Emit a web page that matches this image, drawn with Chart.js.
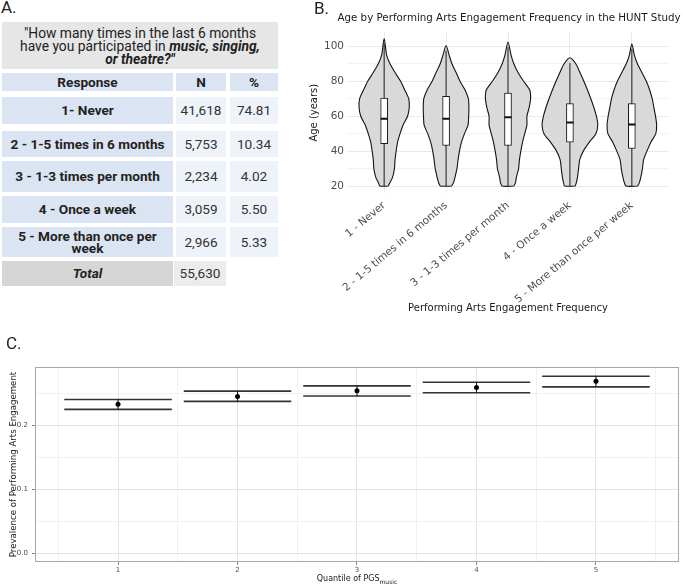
<!DOCTYPE html>
<html>
<head>
<meta charset="utf-8">
<title>Performing arts engagement in HUNT</title>
<script src="https://cdn.jsdelivr.net/npm/chart.js@4.4.1/dist/chart.umd.min.js"></script>
<style>
  html, body { margin: 0; padding: 0; background: #fff; }
  body { width: 683px; height: 584px; position: relative; overflow: hidden; font-family: Roboto, sans-serif; }
  canvas { position: absolute; }
  .panel-label { position: absolute; font-size: 17px; line-height: 17px; color: #222; z-index: 2; }
  .cell { position: absolute; display: flex; align-items: center; justify-content: center;
          text-align: center; font-size: 13.6px; line-height: 12.5px; color: #222; white-space: pre; }
  .question { position: absolute; text-align: center; font-size: 13.8px; line-height: 13px; color: #222; white-space: nowrap; }
</style>
</head>
<body>
<div id="tableA"></div>
<canvas id="violinChart" width="383" height="320" style="left:300px;top:0px"></canvas>
<canvas id="pgsChart" width="683" height="254" style="left:0px;top:330px"></canvas>
<div class="panel-label" style="left:1px;top:-1px">A.</div>
<div class="panel-label" style="left:314px;top:0px">B.</div>
<div class="panel-label" style="left:6px;top:335px">C.</div>
<script>
// ---- A. survey responses ----
const responses = ['1- Never', '2 - 1-5 times in 6 months', '3 - 1-3 times per month',
                   '4 - Once a week', '5 - More than once per\nweek'];
const counts = [41618, 5753, 2234, 3059, 2966];
const percents = ['74.81', '10.34', '4.02', '5.50', '5.33'];
const totalCount = 55630;

// ---- B. age distribution per engagement level (density) ----
const engagementLevels = ['1 - Never', '2 - 1-5 times in 6 months', '3 - 1-3 times per month',
                          '4 - Once a week', '5 - More than once per week'];
const ageGrid = [20, 22, 25, 30, 35, 40, 45, 50, 55, 60, 65, 70, 75, 80, 85, 90, 95];
const densNever    = [0.15, 0.21, 0.30, 0.37, 0.39, 0.43, 0.48, 0.57, 0.68, 0.84, 0.90, 0.88, 0.74, 0.59, 0.39, 0.21, 0.09];
const densSixMonth = [0.20, 0.27, 0.32, 0.39, 0.43, 0.48, 0.55, 0.66, 0.79, 0.81, 0.82, 0.80, 0.68, 0.50, 0.36, 0.21, 0.11];
const densMonthly  = [0.21, 0.27, 0.30, 0.38, 0.41, 0.46, 0.52, 0.60, 0.68, 0.68, 0.76, 0.81, 0.78, 0.56, 0.36, 0.21, 0.11];
const densWeekly   = [0.19, 0.23, 0.27, 0.31, 0.35, 0.48, 0.69, 0.93, 1.00, 0.95, 0.86, 0.75, 0.63, 0.50, 0.36, 0.21, 0.00];
const densMoreWeek = [0.21, 0.27, 0.32, 0.38, 0.42, 0.54, 0.68, 0.86, 0.89, 0.85, 0.79, 0.73, 0.64, 0.52, 0.36, 0.20, 0.09];
const ageMin = [20, 20, 20, 20, 20];
const ageMax = [104.5, 100.5, 102.5, 93.5, 101.5];
const ageQ1 = [44.2, 43.2, 43.2, 45.1, 41.5];
const ageMedian = [58.5, 58.5, 59.4, 56.4, 55.2];
const ageQ3 = [70.3, 71.4, 73.3, 67.2, 67.2];
const ageTicks = [20, 30, 40, 50, 60, 70, 80, 90, 100];

// ---- C. prevalence by PGS quantile ----
const pgsQuantiles = [1, 2, 3, 4, 5];
const prevalence = [0.2326, 0.2450, 0.2538, 0.2589, 0.2688];
const ciLower = [0.2248, 0.2372, 0.2456, 0.2507, 0.2600];
const ciUpper = [0.2403, 0.2533, 0.2615, 0.2672, 0.2766];
const prevTicks = [0, 0.05, 0.1, 0.15, 0.2, 0.25];
const quantileTicks = [0.5, 1, 1.5, 2, 2.5, 3, 3.5, 4, 4.5, 5, 5.5];

Chart.defaults.font.family = 'DejaVu Sans';

// fixed axis box, no extra room reserved for overhanging labels
function pinScale(size) {
    return (s) => {
        if (s.isHorizontal()) s.height = size; else s.width = size;
        s.paddingLeft = 0; s.paddingRight = 0; s.paddingTop = 0; s.paddingBottom = 0;
    };
}

/**
 * Panel A: plain positioned cells
 */
function buildTable() {
    const host = document.getElementById('tableA');
    const cols = [[2, 171], [176, 50], [230, 48]];
    const rows = [[97, 27], [131, 26], [161, 31], [196, 27], [227, 30]];
    const blue = '#dbe4f3', pale = '#eef2f9';

    function cell(x, y, w, h, bg, html, style) {
        const d = document.createElement('div');
        d.className = 'cell';
        d.style.cssText = `left:${x}px;top:${y}px;width:${w}px;height:${h}px;background:${bg};` + (style || '');
        d.innerHTML = html;
        host.appendChild(d);
    }

    const q = document.createElement('div');
    q.className = 'question';
    q.style.cssText = 'left:2px;top:22px;width:276px;height:42px;padding-top:5px;background:#e6e6e6;';
    q.innerHTML = '"How many times in the last 6 months<br>have you participated in <b><i>music, singing,</i></b><br><b><i>or theatre?"</i></b>';
    host.appendChild(q);

    cell(cols[0][0], 73, cols[0][1], 18, blue, 'Response', 'font-weight:bold;');
    cell(cols[1][0], 73, cols[1][1], 18, blue, 'N', 'font-weight:bold;');
    cell(cols[2][0], 73, cols[2][1], 18, blue, '%', 'font-weight:bold;');

    responses.forEach((r, i) => {
        const [y, h] = rows[i];
        cell(cols[0][0], y, cols[0][1], h, blue, r, 'font-weight:bold;');
        cell(cols[1][0], y, cols[1][1], h, pale, counts[i].toLocaleString('en-US'), 'color:#333;');
        cell(cols[2][0], y, cols[2][1], h, pale, percents[i], 'color:#333;');
    });

    cell(cols[0][0], 261, cols[0][1], 25, '#d6d6d6', 'Total', 'font-weight:bold;font-style:italic;');
    cell(cols[1][0] - 2, 261, cols[1][1] + 2, 25, '#ececec', totalCount.toLocaleString('en-US'), 'color:#333;');
}

/**
 * Panel B: violins as closed filled lines, boxes as floating bars
 */
const violinTitle = {
    id: 'violinTitle',
    afterDraw(chart) {
        const ctx = chart.ctx;
        ctx.save();
        ctx.fillStyle = '#1a1a1a';
        ctx.font = '10.3px "DejaVu Sans"';
        ctx.textAlign = 'center';
        ctx.textBaseline = 'middle';
        ctx.fillText('Age by Performing Arts Engagement Frequency in the HUNT Study', 209, 18);
        ctx.restore();
    }
};

function createViolinChart() {
    const VIOLIN_HALF = 0.45;
    const densities = [densNever, densSixMonth, densMonthly, densWeekly, densMoreWeek];

    function outline(i) {
        const cx = i + 1;
        const right = [];
        ageGrid.forEach((a, k) => {
            if (a < ageMax[i]) right.push({ x: cx + densities[i][k] * VIOLIN_HALF, y: a });
        });
        const pts = right.slice();
        pts.push({ x: cx, y: ageMax[i] });
        for (let k = right.length - 1; k >= 0; k--) pts.push({ x: 2 * cx - right[k].x, y: right[k].y });
        pts.push(right[0]);
        return pts;
    }

    const whiskers = [];
    engagementLevels.forEach((_, i) => {
        whiskers.push({ x: i + 1, y: ageMin[i] }, { x: i + 1, y: ageMax[i] - 3 }, { x: i + 1, y: null });
    });

    const datasets = [
        {
            type: 'scatter',
            data: ageMedian.map((m, i) => ({ x: i + 1, y: m })),
            pointStyle: 'line', pointRadius: 3.6, borderWidth: 2, borderColor: '#111',
            order: 0
        },
        {
            type: 'bar',
            data: ageQ1.map((q1, i) => ({ x: i + 1, y: [q1, ageQ3[i]] })),
            backgroundColor: '#ffffff', borderColor: '#1a1a1a', borderWidth: 1,
            borderSkipped: false, barThickness: 7,
            order: 1
        },
        {
            type: 'line',
            data: whiskers,
            borderColor: '#1a1a1a', borderWidth: 1, pointRadius: 0, fill: false,
            order: 2
        }
    ];
    engagementLevels.forEach((_, i) => {
        datasets.push({
            type: 'line',
            data: outline(i),
            fill: 'shape',
            backgroundColor: '#d9d9d9',
            borderColor: '#141414',
            borderWidth: 1.1,
            pointRadius: 0,
            tension: 0.25,
            order: 3
        });
    });

    return new Chart(document.getElementById('violinChart'), {
        type: 'line',
        data: { datasets },
        options: {
            responsive: false,
            animation: false,
            layout: { padding: { left: 0, right: 14, top: 32, bottom: 4 } },
            plugins: {
                legend: { display: false },
                tooltip: { enabled: false },
                title: { display: false }
            },
            scales: {
                x: {
                    type: 'linear', min: 0.4, max: 5.6,
                    offset: false,  // the bar dataset would otherwise switch offset on
                    afterBuildTicks: (s) => { s.ticks = engagementLevels.map((_, i) => ({ value: i + 1 })); },
                    afterFit: pinScale(122.6),
                    ticks: {
                        callback: (v) => engagementLevels[v - 1],
                        autoSkip: false, minRotation: 40, maxRotation: 40,
                        color: '#4d4d4d', font: { size: 10.5 }, padding: 6
                    },
                    grid: { color: '#ebebeb', drawTicks: false, offset: false },
                    border: { display: false },
                    title: {
                        display: true, text: 'Performing Arts Engagement Frequency',
                        color: '#1a1a1a', font: { size: 10 }, padding: { top: 0, bottom: 2 }
                    }
                },
                y: {
                    min: 15.8, max: 108.2,
                    afterBuildTicks: (s) => { s.ticks = ageTicks.map(v => ({ value: v })); },
                    afterFit: pinScale(47),
                    ticks: {
                        callback: (v) => (v % 20 === 0 ? v : ''),
                        color: '#4d4d4d', font: { size: 10.5 }, padding: 3
                    },
                    grid: {
                        drawTicks: false,
                        color: (c) => (c.tick && c.tick.value % 20 === 0 ? '#e9e9e9' : '#f3f3f3')
                    },
                    border: { display: false },
                    title: {
                        display: true, text: 'Age (years)',
                        color: '#1a1a1a', font: { size: 10 }, padding: { top: 8, bottom: 0 }
                    }
                }
            }
        },
        plugins: [violinTitle]
    });
}

/**
 * Panel C: prevalence points with wide error bars, framed panel
 */
const panelFrame = {
    id: 'panelFrame',
    afterDraw(chart) {
        const { ctx, chartArea: a } = chart;
        ctx.save();
        ctx.strokeStyle = '#a8a8a8';
        ctx.lineWidth = 1;
        ctx.strokeRect(Math.round(a.left) + 0.5, Math.round(a.top) + 0.5,
                       Math.round(a.width) - 1, Math.round(a.height) - 1);

        // x title with subscript
        const main = 'Quantile of PGS', sub = 'music';
        ctx.fillStyle = '#1a1a1a';
        ctx.textBaseline = 'alphabetic';
        ctx.font = '8px "DejaVu Sans"';
        const w1 = ctx.measureText(main).width;
        ctx.font = '6px "DejaVu Sans"';
        const w2 = ctx.measureText(sub).width;
        const x0 = (a.left + a.right) / 2 - (w1 + w2) / 2;
        ctx.font = '8px "DejaVu Sans"';
        ctx.fillText(main, x0, 251);
        ctx.font = '6px "DejaVu Sans"';
        ctx.fillText(sub, x0 + w1, 253.5);
        ctx.restore();
    }
};

function createPrevalenceChart() {
    const CAP_HALF = 0.45;
    const caps = [];
    const stems = [];
    pgsQuantiles.forEach((q, i) => {
        [ciUpper[i], ciLower[i]].forEach(v => {
            caps.push({ x: q - CAP_HALF, y: v }, { x: q + CAP_HALF, y: v }, { x: q, y: null });
        });
        stems.push({ x: q, y: ciLower[i] }, { x: q, y: ciUpper[i] }, { x: q, y: null });
    });

    return new Chart(document.getElementById('pgsChart'), {
        type: 'line',
        data: {
            datasets: [
                {
                    type: 'scatter',
                    data: pgsQuantiles.map((q, i) => ({ x: q, y: prevalence[i] })),
                    pointRadius: 2.5, backgroundColor: '#000', borderColor: '#000', borderWidth: 0
                },
                {
                    data: stems, borderColor: '#111', borderWidth: 1, pointRadius: 0, fill: false
                },
                {
                    data: caps, borderColor: '#333', borderWidth: 1.6, pointRadius: 0, fill: false
                }
            ]
        },
        options: {
            responsive: false,
            animation: false,
            layout: { padding: { left: 0, right: 1, top: 37, bottom: 0 } },
            plugins: { legend: { display: false }, tooltip: { enabled: false } },
            scales: {
                x: {
                    type: 'linear', min: 0.305, max: 5.695,
                    afterBuildTicks: (s) => { s.ticks = quantileTicks.map(v => ({ value: v })); },
                    afterFit: pinScale(22),
                    ticks: {
                        callback: (v) => (Number.isInteger(v) ? String(v) : ''),
                        autoSkip: false, maxRotation: 0,
                        color: '#4d4d4d', font: { size: 7 }, padding: 1
                    },
                    grid: {
                        tickLength: 3,
                        color: (c) => (c.tick && Number.isInteger(c.tick.value) ? '#e4e4e4' : '#f1f1f1'),
                        tickColor: (c) => (c.tick && Number.isInteger(c.tick.value) ? '#888' : 'rgba(0,0,0,0)')
                    },
                    border: { display: false }
                },
                y: {
                    min: -0.0139, max: 0.291,
                    afterBuildTicks: (s) => { s.ticks = prevTicks.map(v => ({ value: v })); },
                    afterFit: pinScale(35),
                    ticks: {
                        callback: (v) => (Math.round(v * 100) % 10 === 0 ? v.toFixed(1) : ''),
                        color: '#4d4d4d', font: { size: 7 }, padding: 4
                    },
                    grid: {
                        tickLength: 3,
                        color: (c) => (c.tick && Math.round(c.tick.value * 100) % 10 === 0 ? '#e4e4e4' : '#f1f1f1'),
                        tickColor: (c) => (c.tick && Math.round(c.tick.value * 100) % 10 === 0 ? '#888' : 'rgba(0,0,0,0)')
                    },
                    border: { display: false },
                    title: {
                        display: true, text: 'Prevalence of Performing Arts Engagement',
                        color: '#1a1a1a', font: { size: 8.6 }, padding: { top: 9, bottom: 0 }
                    }
                }
            }
        },
        plugins: [panelFrame]
    });
}

buildTable();
createViolinChart();
createPrevalenceChart();
</script>
</body>
</html>
